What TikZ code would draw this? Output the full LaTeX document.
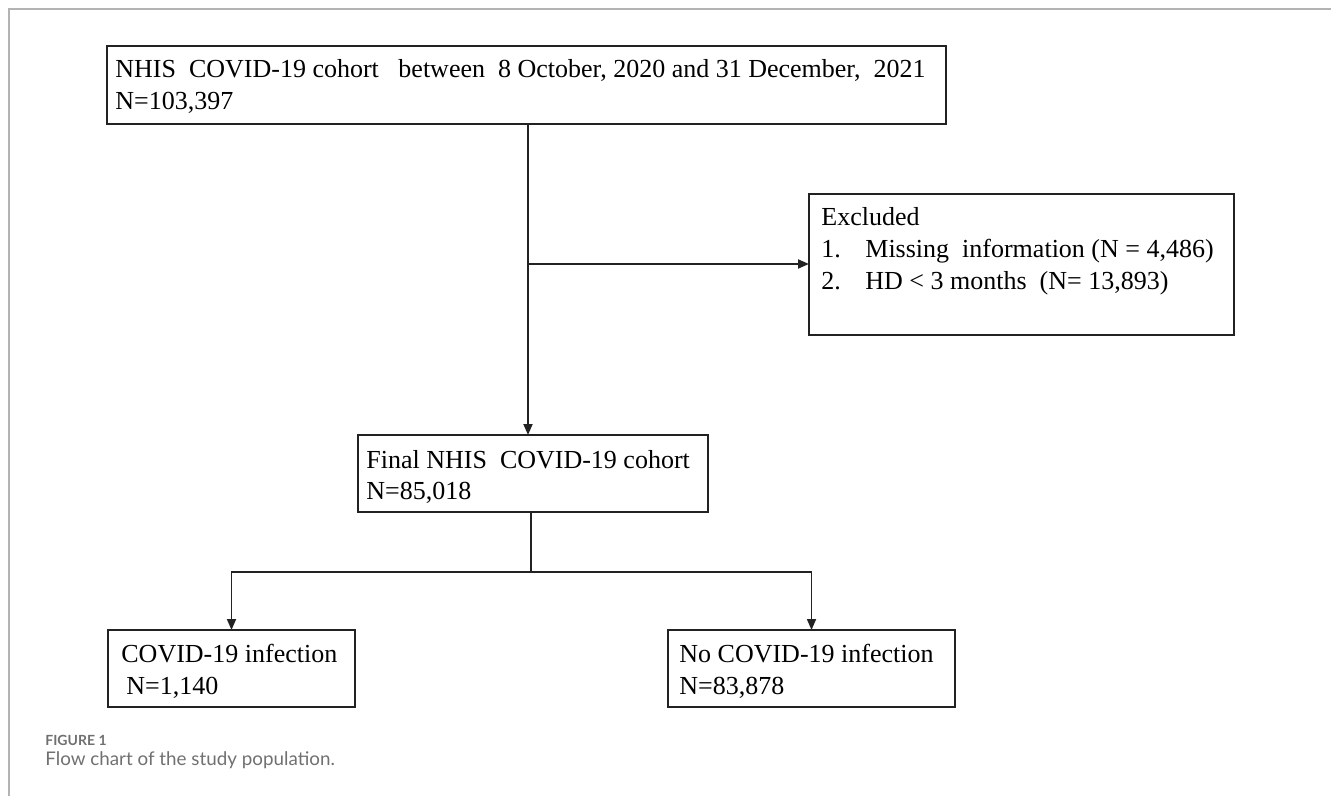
\documentclass[tikz,border=0pt]{standalone}
\usepackage{fontspec}
\setmainfont{Liberation Serif}
\newfontfamily\capfont{Lato}
\usetikzlibrary{arrows.meta}
\definecolor{framegray}{HTML}{B3B3B3}
\definecolor{capgray}{HTML}{707070}
\definecolor{ink}{HTML}{222222}
\tikzset{
  boxst/.style={draw=ink, line width=0.9pt, rectangle, inner sep=0pt, outer sep=0pt},
  txt/.style={anchor=base west, inner sep=0pt, text=black, font=\fontsize{13}{16}\selectfont},
  captxt/.style={anchor=base west, inner sep=0pt, text=capgray},
  conn/.style={draw=ink, line width=0.9pt},
  arr/.style={conn, -{Triangle[length=5.5pt,width=4.5pt]}},
}
\begin{document}
\begin{tikzpicture}[x=0.5pt,y=-0.5pt]
\useasboundingbox (0,0) rectangle (1331,796);
\draw[framegray, line width=1pt] (9,796) -- (9,9) -- (1331,9);

% boxes
\node[boxst, minimum width=419.5pt, minimum height=39pt] (top) at (526.5,85) {};
\node[boxst, minimum width=212.5pt, minimum height=70.5pt] (excl) at (1021.5,264.5) {};
\node[boxst, minimum width=175pt, minimum height=38.5pt] (final) at (533,473.5) {};
\node[boxst, minimum width=123.5pt, minimum height=38.5pt] (inf) at (231.5,668.5) {};
\node[boxst, minimum width=143.5pt, minimum height=38.5pt] (noinf) at (811.5,668.5) {};

% texts
\node[txt] (t1) at (115,78) {NHIS~ COVID-19 cohort~ ~between~ 8 October, 2020 and 31 December,~ 2021};
\node[txt] (t2) at (115,110) {N=103,397};
\node[txt] (e0) at (821,226) {Excluded};
\node[txt] (e1) at (821,258) {\makebox[22pt][l]{1.}Missing~ information (N = 4,486)};
\node[txt] (e2) at (821,290) {\makebox[22pt][l]{2.}HD < 3 months~ (N= 13,893)};
\node[txt] (f1) at (366,468) {Final NHIS~ COVID-19 cohort};
\node[txt] (f2) at (366,499) {N=85,018};
\node[txt] (l1) at (121,662) {COVID-19 infection};
\node[txt] (l2) at (126,694) {N=1,140};
\node[txt] (r1) at (679,662) {No COVID-19 infection};
\node[txt] (r2) at (679,694) {N=83,878};

% caption
\node[captxt, font=\capfont\bfseries\fontsize{7}{8}\selectfont] (fig) at (45,745) {FIGURE 1};
\node[captxt, font=\capfont\fontsize{9.4}{11}\selectfont] (cap) at (45,765) {Flow chart of the study population.};

% connectors
\coordinate (s1) at (528,264);
\coordinate (s2) at (531,572);
\draw[arr] (top.south -| s1) -- (final.north -| s1);
\draw[arr] (s1) -- (s1 -| excl.west);
\draw[conn] (final.south -| s2) -- (s2);
\draw[arr] (s2) -| (inf.north);
\draw[arr] (s2) -| (noinf.north);
\end{tikzpicture}
\end{document}
